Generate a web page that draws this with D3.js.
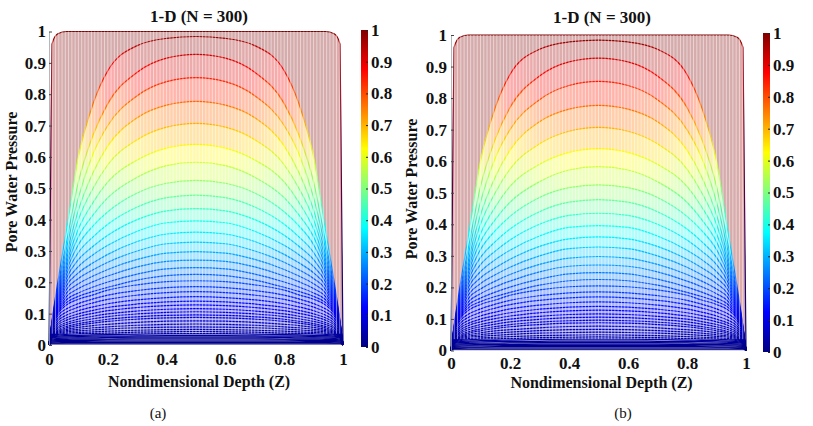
<!DOCTYPE html>
<html>
<head>
<meta charset="utf-8">
<script src="https://cdn.jsdelivr.net/npm/d3@7"></script>
<style>
  body { margin: 0; background: #fff; }
</style>
</head>
<body>
<script>
// Depth points of the half profile (the isochrones are symmetric about Z = 0.5)
var zHalf = [0, 0.01, 0.03, 0.06, 0.1, 0.15, 0.2, 0.3, 0.4, 0.5];

// Early isochrones, top to bottom (pressure at each zHalf point)
var isoEarly = [
  [0, 0.960, 0.993, 1.000, 1.000, 1.000, 1.000, 1.000, 1.000, 1.000],
  [0, 0.075, 0.200, 0.370, 0.600, 0.770, 0.875, 0.955, 0.978, 0.984],
  [0, 0.072, 0.185, 0.330, 0.520, 0.670, 0.770, 0.870, 0.915, 0.927],
  [0, 0.070, 0.175, 0.310, 0.470, 0.610, 0.700, 0.795, 0.840, 0.853],
  [0, 0.068, 0.165, 0.290, 0.430, 0.550, 0.635, 0.725, 0.765, 0.777],
  [0, 0.066, 0.158, 0.275, 0.400, 0.500, 0.575, 0.655, 0.695, 0.707],
  [0, 0.064, 0.152, 0.262, 0.370, 0.455, 0.520, 0.590, 0.628, 0.640],
  [0, 0.062, 0.146, 0.250, 0.345, 0.415, 0.470, 0.535, 0.572, 0.583],
  [0, 0.061, 0.141, 0.238, 0.320, 0.380, 0.425, 0.485, 0.516, 0.525],
  [0, 0.060, 0.136, 0.226, 0.295, 0.345, 0.385, 0.440, 0.470, 0.478],
  [0, 0.059, 0.131, 0.214, 0.272, 0.315, 0.350, 0.400, 0.428, 0.435],
  [0, 0.058, 0.126, 0.202, 0.250, 0.288, 0.318, 0.363, 0.390, 0.396],
  [0, 0.058, 0.122, 0.190, 0.230, 0.262, 0.289, 0.330, 0.354, 0.360],
  [0, 0.057, 0.117, 0.178, 0.212, 0.240, 0.264, 0.300, 0.323, 0.328],
  [0, 0.057, 0.113, 0.166, 0.195, 0.220, 0.241, 0.273, 0.293, 0.298],
  [0, 0.057, 0.109, 0.155, 0.180, 0.202, 0.220, 0.249, 0.267, 0.271],
  [0, 0.057, 0.106, 0.145, 0.166, 0.185, 0.201, 0.226, 0.243, 0.247],
  [0, 0.057, 0.103, 0.136, 0.155, 0.171, 0.184, 0.207, 0.221, 0.225],
  [0, 0.057, 0.100, 0.128, 0.146, 0.160, 0.175, 0.192, 0.202, 0.205]
];

// Middle isochrones: peak pressure at Z = 0.5 and their shared (normalised) shape
var midPeaks = [0.186, 0.170, 0.154, 0.140, 0.128, 0.116, 0.106, 0.096, 0.088];
var midShape = [0, 0.30, 0.50, 0.62, 0.71, 0.79, 0.855, 0.935, 0.983, 1];

// Last isochrones, flattening into the dark band along the bottom
var isoTail = [
  [0, 0.026, 0.042, 0.050, 0.056, 0.062, 0.066, 0.072, 0.076, 0.077],
  [0, 0.026, 0.040, 0.046, 0.050, 0.055, 0.058, 0.063, 0.066, 0.067],
  [0, 0.026, 0.037, 0.042, 0.045, 0.048, 0.051, 0.055, 0.057, 0.058],
  [0, 0.026, 0.034, 0.038, 0.040, 0.042, 0.044, 0.047, 0.049, 0.050],
  [0, 0.025, 0.031, 0.034, 0.036, 0.037, 0.038, 0.041, 0.042, 0.043],
  [0, 0.024, 0.028, 0.030, 0.031, 0.032, 0.033, 0.035, 0.036, 0.036],
  [0, 0.022, 0.025, 0.026, 0.027, 0.028, 0.028, 0.029, 0.030, 0.030],
  [0, 0.019, 0.021, 0.022, 0.023, 0.023, 0.024, 0.025, 0.025, 0.025],
  [0, 0.016, 0.018, 0.018, 0.019, 0.019, 0.019, 0.020, 0.020, 0.020],
  [0, 0.013, 0.014, 0.015, 0.015, 0.015, 0.016, 0.016, 0.016, 0.016],
  [0, 0.010, 0.011, 0.011, 0.011, 0.012, 0.012, 0.012, 0.012, 0.012],
  [0, 0.007, 0.007, 0.008, 0.008, 0.008, 0.008, 0.008, 0.008, 0.008],
  [0, 0.004, 0.004, 0.004, 0.004, 0.004, 0.004, 0.004, 0.004, 0.004]
];

var yTicks = [0, 0.1, 0.2, 0.3, 0.4, 0.5, 0.6, 0.7, 0.8, 0.9, 1];
var xTicks = [0, 0.2, 0.4, 0.6, 0.8, 1];
var cbTicks = [0, 0.1, 0.2, 0.3, 0.4, 0.5, 0.6, 0.7, 0.8, 0.9, 1];

// MATLAB jet colormap
var jetStops = [0, 0.125, 0.375, 0.625, 0.875, 1];
var jetColors = ["#000080", "#0000ff", "#00ffff", "#ffff00", "#ff0000", "#800000"];
var jet = d3.scaleLinear().domain(jetStops).range(jetColors).clamp(true);

var FONT = '"Liberation Serif", "Times New Roman", Times, serif';

// full profiles (mirror the half profile)
var zFull = zHalf.concat(zHalf.slice(0, -1).reverse().map(function (z) { return 1 - z; }));
function mirror(h) { return h.concat(h.slice(0, -1).reverse()); }
var curves = isoEarly.map(mirror)
  .concat(midPeaks.map(function (p) { return mirror(midShape.map(function (s) { return p * s; })); }))
  .concat(isoTail.map(mirror));

var W = 813, H = 426;
var svg = d3.select("body").append("svg")
  .attr("width", W).attr("height", H)
  .attr("font-family", FONT);

var panels = [
  { id: "a", x0: 49, x1: 343, yb: 345, yt: 31.5, cbx: 361, cbTop: 30, cbBot: 347,
    titleX: 199, titleY: 22, xlabY: 387, ylabX: 17, ylabY: 182, capX: 158, xPad: 8, yPad: 3, cap: "(a)" },
  { id: "b", x0: 451, x1: 746, yb: 350.5, yt: 35, cbx: 763, cbTop: 33, cbBot: 352,
    titleX: 602, titleY: 23, xlabY: 388, ylabX: 417, ylabY: 189, capX: 623, xPad: 6.5, yPad: 4, cap: "(b)" }
];

var defs = svg.append("defs");

function label(sel, size, weight) {
  return sel.attr("font-family", FONT).style("font-family", FONT)
    .style("font-size", size + "px").style("font-weight", weight).attr("fill", "#111");
}

panels.forEach(function (p) {
  var x = d3.scaleLinear().domain([0, 1]).range([p.x0, p.x1]);
  var y = d3.scaleLinear().domain([0, 1]).range([p.yb, p.yt]);
  var g = svg.append("g");

  // one horizontal gradient per isochrone: colour follows the local pressure
  curves.forEach(function (c, k) {
    var grad = defs.append("linearGradient")
      .attr("id", "iso-" + p.id + "-" + k)
      .attr("gradientUnits", "userSpaceOnUse")
      .attr("x1", x(0)).attr("x2", x(1)).attr("y1", 0).attr("y2", 0);
    grad.selectAll("stop").data(zFull).enter().append("stop")
      .attr("offset", function (z) { return z; })
      .attr("stop-color", function (z, i) { return jet(c[i]); });
  });

  // faces between consecutive isochrones
  var area = d3.area()
    .curve(d3.curveMonotoneX)
    .x(function (d) { return x(d.z); })
    .y0(function (d) { return y(d.lo); })
    .y1(function (d) { return y(d.hi); });

  curves.forEach(function (c, k) {
    var next = curves[k + 1];
    var pts = zFull.map(function (z, i) { return { z: z, hi: c[i], lo: next ? next[i] : 0 }; });
    g.append("path")
      .attr("d", area(pts))
      .attr("fill", "url(#iso-" + p.id + "-" + k + ")")
      .attr("fill-opacity", 0.33);
  });

  // isochrone lines
  var line = d3.line()
    .curve(d3.curveMonotoneX)
    .x(function (d, i) { return x(zFull[i]); })
    .y(function (d) { return y(d); });

  curves.forEach(function (c, k) {
    g.append("path")
      .attr("d", line(c))
      .attr("fill", "none")
      .attr("stroke", "url(#iso-" + p.id + "-" + k + ")")
      .attr("stroke-width", 1.2);
  });

  // mesh columns (light vertical seams over the surface)
  g.append("g").selectAll("line")
    .data(d3.range(1, 90))
    .enter().append("line")
    .attr("x1", function (i) { return x(i / 90); })
    .attr("x2", function (i) { return x(i / 90); })
    .attr("y1", y(0.036)).attr("y2", y(1))
    .attr("stroke", "#fff").attr("stroke-width", 1).attr("stroke-opacity", 0.5);

  // axes
  var yAxis = g.append("g")
    .attr("transform", "translate(" + p.x0 + ",0)")
    .call(d3.axisLeft(y).tickValues(yTicks).tickFormat(d3.format("~g"))
      .tickSize(-3).tickSizeOuter(0).tickPadding(p.yPad));
  var xAxis = g.append("g")
    .attr("transform", "translate(0," + p.yb + ")")
    .call(d3.axisBottom(x).tickValues(xTicks).tickFormat(d3.format("~g"))
      .tickSize(0).tickPadding(p.xPad));
  [yAxis, xAxis].forEach(function (a) {
    a.attr("font-family", null).attr("font-size", null);
    a.select(".domain").attr("stroke", "#9aa").attr("stroke-width", 0.8);
    a.selectAll(".tick line").attr("stroke", "#444");
    label(a.selectAll("text"), 17, "bold");
  });
  xAxis.select(".domain").remove();

  // colorbar
  var cy = d3.scaleLinear().domain([0, 1]).range([p.cbBot, p.cbTop]);
  var cbGrad = defs.append("linearGradient")
    .attr("id", "cb-" + p.id)
    .attr("x1", 0).attr("x2", 0).attr("y1", 1).attr("y2", 0);
  cbGrad.selectAll("stop").data(jetStops).enter().append("stop")
    .attr("offset", function (d) { return d; })
    .attr("stop-color", function (d, i) { return jetColors[i]; });
  g.append("rect")
    .attr("x", p.cbx).attr("y", cy(1))
    .attr("width", 7).attr("height", cy(0) - cy(1))
    .attr("fill", "url(#cb-" + p.id + ")");
  var cbAxis = g.append("g")
    .attr("transform", "translate(" + (p.cbx + 7) + ",0)")
    .call(d3.axisRight(cy).tickValues(cbTicks).tickFormat(d3.format("~g"))
      .tickSize(-2).tickSizeOuter(0).tickPadding(3));
  cbAxis.attr("font-family", null).attr("font-size", null);
  cbAxis.select(".domain").remove();
  cbAxis.selectAll(".tick line").attr("stroke", "#222");
  label(cbAxis.selectAll("text"), 17, "bold");

  // labels
  label(g.append("text"), 17, "bold")
    .attr("x", p.titleX).attr("y", p.titleY)
    .attr("text-anchor", "middle")
    .text("1-D (N = 300)");
  label(g.append("text"), 16, "bold")
    .attr("x", (p.x0 + p.x1) / 2 + 3).attr("y", p.xlabY)
    .attr("text-anchor", "middle")
    .text("Nondimensional Depth (Z)");
  label(g.append("text"), 16, "bold")
    .attr("transform", "translate(" + p.ylabX + "," + p.ylabY + ") rotate(-90)")
    .attr("text-anchor", "middle")
    .text("Pore Water Pressure");
  label(g.append("text"), 15, "normal")
    .attr("x", p.capX).attr("y", 418)
    .attr("text-anchor", "middle")
    .text(p.cap);
});
</script>
</body>
</html>
